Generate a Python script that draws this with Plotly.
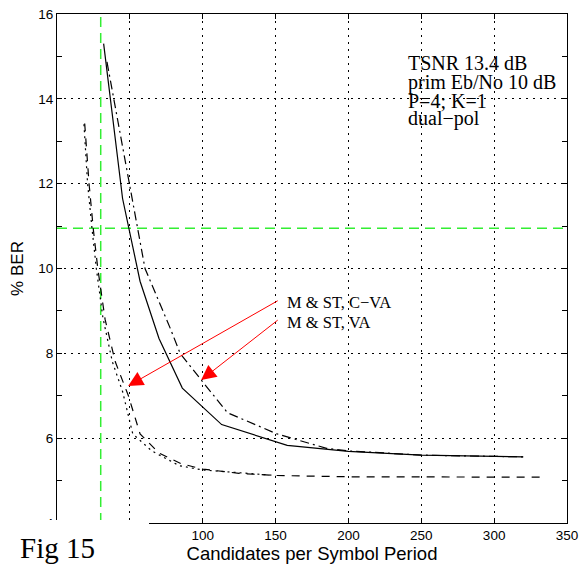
import plotly.graph_objects as go

# ---- data ----
va_x = [32, 45, 57, 70, 86, 113, 158, 200, 250, 320]
va_y = [15.3, 11.65, 9.7, 8.35, 7.18, 6.32, 5.83, 5.69, 5.6, 5.56]

cva_x = [34.3, 39, 49.5, 55.6, 60.4, 77.6, 84.5, 99, 117, 151, 185, 200, 250, 300, 320]
cva_y = [14.87, 14.0, 12.0, 10.96, 10.0, 8.6, 8.0, 7.37, 6.6, 6.1, 5.76, 5.7, 5.6, 5.57, 5.56]

dash_x = [19, 22, 25, 28, 33, 40, 49, 57, 70, 85, 100, 125, 150, 200, 335]
dash_y = [13.42, 12.0, 10.9, 10.0, 8.8, 7.8, 7.0, 6.1, 5.65, 5.4, 5.27, 5.17, 5.12, 5.09, 5.08]

dot_x = [18.5, 21, 24, 27, 31.5, 38, 45, 52, 65, 84, 100, 150]
dot_y = [13.4, 12.0, 10.95, 10.0, 8.84, 7.8, 7.1, 6.1, 5.7, 5.35, 5.25, 5.12]

threshold_x = 30
threshold_y = 10.95
x_range = [0, 350]
y_range = [4, 16]

x_ticks = [0, 50, 100, 150, 200, 250, 300, 350]
y_ticks = [4, 6, 8, 10, 12, 14, 16]

info_lines = ["TSNR 13.4 dB", "prim Eb/No 10 dB", "P=4; K=1", "dual\u2212pol"]
label_cva = "M & ST, C\u2212VA"
label_va = "M & ST, VA"

SERIF = "Liberation Serif"
SANS = "Liberation Sans"

fig = go.Figure()

# green reference lines
fig.add_trace(go.Scatter(x=[threshold_x, threshold_x], y=y_range, mode="lines",
                         line=dict(color="#33ee33", width=1.5, dash="10px,6px"),
                         hoverinfo="skip", showlegend=False))
fig.add_trace(go.Scatter(x=x_range, y=[threshold_y, threshold_y], mode="lines",
                         line=dict(color="#33ee33", width=1.5, dash="10px,6px"),
                         hoverinfo="skip", showlegend=False))

fig.add_trace(go.Scatter(x=va_x, y=va_y, mode="lines", name=label_va,
                         line=dict(color="black", width=1.2)))
fig.add_trace(go.Scatter(x=cva_x, y=cva_y, mode="lines", name=label_cva,
                         line=dict(color="black", width=1.2, dash="9px,4px,2px,4px")))
fig.add_trace(go.Scatter(x=dash_x, y=dash_y, mode="lines",
                         line=dict(color="black", width=1.2, dash="8px,7px")))
fig.add_trace(go.Scatter(x=dot_x, y=dot_y, mode="lines",
                         line=dict(color="black", width=1.2, dash="2px,4px")))

axis_common = dict(showline=True, linecolor="black", linewidth=1.2, mirror="ticks",
                   ticks="inside", ticklen=5, tickcolor="black", tickwidth=1,
                   showgrid=True, gridcolor="black", gridwidth=1.2, griddash="2px,5px",
                   zeroline=False, automargin=False,
                   tickfont=dict(family=SANS, size=13.5, color="black"))

fig.update_xaxes(range=x_range, tickvals=x_ticks, **axis_common,
                 title=dict(text="Candidates per Symbol Period", standoff=2,
                            font=dict(family=SANS, size=18.5, color="black")))
fig.update_yaxes(range=y_range, tickvals=y_ticks, **axis_common,
                 minor=dict(dtick=1, ticks="inside", ticklen=5, tickcolor="black", showgrid=False),
                 title=dict(text="% BER", standoff=10,
                            font=dict(family=SANS, size=17, color="black")))

annotations = []
# info text block
info_y = [14.84, 14.39, 13.96, 13.53]
for t, yy in zip(info_lines, info_y):
    annotations.append(dict(x=239.7, y=yy, xref="x", yref="y", text=t, showarrow=False,
                            xanchor="left", yanchor="middle",
                            font=dict(family=SERIF, size=20, color="black")))

# arrows
annotations.append(dict(x=48.8, y=7.23, ax=152.5, ay=9.26, xref="x", yref="y",
                        axref="x", ayref="y", text="", showarrow=True, arrowhead=2,
                        arrowsize=3, arrowwidth=1, arrowcolor="red", standoff=0))
annotations.append(dict(x=98.9, y=7.37, ax=152.5, ay=8.81, xref="x", yref="y",
                        axref="x", ayref="y", text="", showarrow=True, arrowhead=2,
                        arrowsize=3, arrowwidth=1, arrowcolor="red", standoff=0))
annotations.append(dict(x=156.5, y=9.2, xref="x", yref="y", text=label_cva, showarrow=False,
                        xanchor="left", yanchor="middle",
                        font=dict(family=SERIF, size=16.5, color="black")))
annotations.append(dict(x=156.5, y=8.73, xref="x", yref="y", text=label_va, showarrow=False,
                        xanchor="left", yanchor="middle",
                        font=dict(family=SERIF, size=16.5, color="black")))
# figure label (positioned in paper coords from pixel estimates)
annotations.append(dict(x=(18 - 57) / 510, y=(523 - 548) / 509, xref="paper", yref="paper",
                        text="Fig 15", showarrow=False, xanchor="left", yanchor="middle",
                        font=dict(family=SERIF, size=29, color="black")))

fig.update_layout(
    width=581, height=565,
    margin=dict(l=57, r=14, t=14, b=42),
    paper_bgcolor="white", plot_bgcolor="white",
    showlegend=False,
    annotations=annotations,
    shapes=[dict(type="rect", xref="paper", yref="paper", x0=-0.2, x1=(149 - 57) / 510,
                 y0=-0.2, y1=3 / 509, fillcolor="white", line=dict(width=0), layer="above")],
)

fig.write_html("out.html")
